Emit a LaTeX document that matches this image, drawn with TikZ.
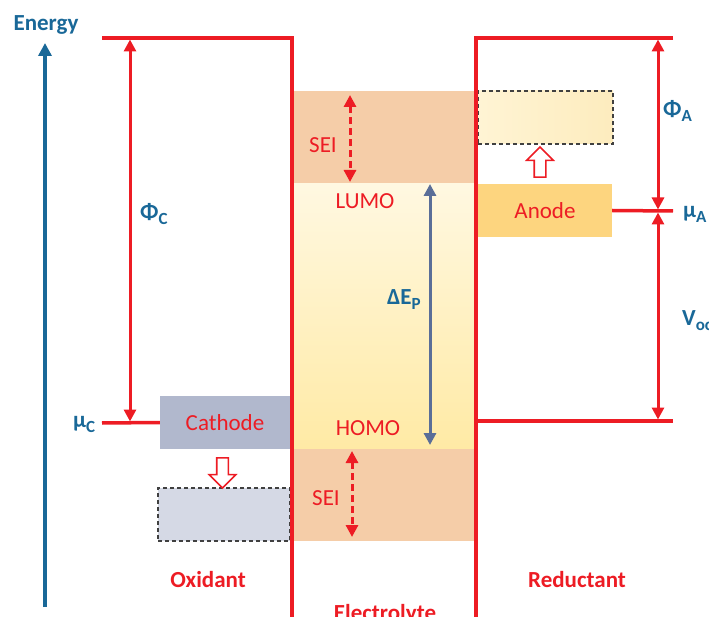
\documentclass[tikz,border=0pt]{standalone}
\usepackage{fontspec}
\setmainfont{Carlito}
\usetikzlibrary{arrows.meta, positioning, shapes.arrows}

\definecolor{lred}{RGB}{237,28,36}
\definecolor{eblue}{RGB}{25,104,152}
\definecolor{gapblue}{RGB}{90,110,152}
\definecolor{seiorange}{RGB}{245,205,168}
\definecolor{elyellow}{RGB}{255,234,165}
\definecolor{ellight}{RGB}{255,248,225}
\definecolor{catgray}{RGB}{177,184,205}
\definecolor{catlight}{RGB}{213,217,229}
\definecolor{anyellow}{RGB}{253,213,127}
\definecolor{anlight}{RGB}{255,244,212}
\definecolor{anmid}{RGB}{253,236,190}
\newcommand{\lsub}[1]{\raisebox{-0.45ex}{\fontsize{17}{17}\selectfont #1}}

\begin{document}
\begin{tikzpicture}[x=1pt, y=-1pt,
    t/.style={inner sep=0pt, text=lred, font=\fontsize{23}{27}\selectfont},
    tb/.style={t, font=\fontsize{23}{27}\selectfont\bfseries},
    s/.style={tb, text=eblue, anchor=west},
    band/.style={rectangle, inner sep=0pt, minimum width=184pt},
    elec/.style={rectangle, inner sep=0pt, minimum width=132pt, minimum height=53pt, font=\fontsize{23}{27}\selectfont, text=lred},
    old/.style={elec, draw=black!75, dash pattern=on 4pt off 3pt, line width=1.1pt},
    lvl/.style={lred, line width=3.5pt},
    a/.style={lred, line width=3pt, <->, >={Triangle[length=12pt,width=12pt]}},
    d/.style={a, dash pattern=on 7pt off 4pt},
    h/.style={single arrow, draw=lred, fill=white, line width=1.6pt, inner xsep=0pt, inner ysep=5pt, minimum height=30pt, single arrow head extend=7.5pt},
]
\useasboundingbox (0,0) rectangle (709,617);

% Electrolyte window
\node[band, fill=seiorange, minimum height=93pt] (seit) at (384,137.5) {};
\node[band, top color=ellight, bottom color=elyellow, minimum height=265pt] (win) at (384,316.5) {};
\node[band, fill=seiorange, minimum height=92pt] (seib) at (384,495) {};

% Electrodes
\node[elec, fill=catgray, minimum width=130pt] (cat) at (225,422.5) {Cathode};
\node[old, fill=catlight] (catold) at (224,514.5) {};
\node[elec, fill=anyellow, minimum width=134pt] (an) at (545,210.5) {Anode};
\node[old, left color=anlight, right color=anmid, minimum width=135pt] (anold) at (545.5,117.5) {};

\node[h, rotate=-90] (catdown) at (222.5,470) {};
\node[h, rotate=90] (anup) at (540,165) {};

% Energy axis
\node[tb, text=eblue] (en) at (46,25) {Energy};
\coordinate (e0) at (45,607);
\coordinate (e1) at (45,43);
\draw[eblue, line width=3.5pt, -{Triangle[length=13pt,width=13pt]}] (e0) -- (e1);

% Levels
\coordinate (ctl) at (102,38);
\coordinate (ctr) at (292,38);
\coordinate (cbot) at (292,617);
\coordinate (mc) at (102,423);
\coordinate (atl) at (476,38);
\coordinate (atr) at (673,38);
\coordinate (abot) at (476,617);
\coordinate (hl) at (476,421);
\coordinate (hr) at (673,421);
\coordinate (ma) at (673,211);

\draw[lvl] (ctl) -- (ctr) -- (cbot);
\draw[lvl] (atr) -- (atl) -- (abot);
\draw[lvl] (hl) -- (hr);
\draw[lvl] (mc) -- (cat.west);
\draw[lvl] (an.east) -- (ma);

% Gaps
\coordinate (pc0) at (130,39.5);
\coordinate (pc1) at (130,421.5);
\coordinate (pa0) at (658,39.5);
\coordinate (pa1) at (658,209.5);
\coordinate (v0) at (658,212.5);
\coordinate (v1) at (658,419.5);
\coordinate (st0) at (350,95);
\coordinate (st1) at (350,182);
\coordinate (sb0) at (352,451);
\coordinate (sb1) at (352,537);
\coordinate (g0) at (430,184);
\coordinate (g1) at (430,445);

\draw[a] (pc0) -- (pc1);
\draw[a] (pa0) -- (pa1);
\draw[a] (v0) -- (v1);
\draw[d] (st0) -- (st1);
\draw[d] (sb0) -- (sb1);
\draw[gapblue, line width=3pt, <->, >={Triangle[length=12pt,width=12pt]}] (g0) -- (g1);

% Labels
\node[t] (seitl) at (323,145) {SEI};
\node[t] (seibl) at (326,498) {SEI};
\node[t] (lumo) at (365,201) {LUMO};
\node[t] (homo) at (368,428) {HOMO};
\node[tb] (ox) at (208,580) {Oxidant};
\node[tb] (red) at (577,580) {Reductant};
\node[tb, anchor=base] (ely) at (385,620) {Electrolyte};

\node[s] (phic) at (140,214) {Φ\lsub{C}};
\node[s] (muc) at (73,424) {μ\lsub{C}};
\node[s] (phia) at (663,111) {Φ\lsub{A}};
\node[s] (mua) at (683,214) {μ\lsub{A}};
\node[s] (de) at (387,300) {ΔE\lsub{P}};
\node[s] (voc) at (682,321) {V\lsub{oc}};
\end{tikzpicture}
\end{document}
